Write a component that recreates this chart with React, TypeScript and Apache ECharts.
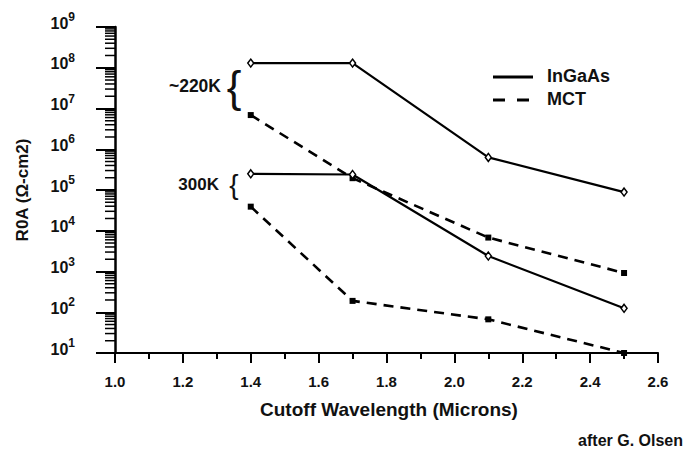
import React, { useEffect, useRef } from "react";
import * as echarts from "echarts";

// Cutoff wavelengths (microns)
const wavelengths = [1.4, 1.7, 2.1, 2.5];
// R0A values (ohm-cm2)
const ingaas220 = [1.3e8, 1.3e8, 6.3e5, 8.9e4];
const ingaas300 = [2.5e5, 2.4e5, 2.4e3, 1.25e2];
const mct220 = [6.9e6, 1.95e5, 6.8e3, 9.2e2];
const mct300 = [3.9e4, 1.9e2, 6.7e1, 1.0e1];

const xTickMin = 1.0;
const xTickMax = 2.6;
const yMin = 1e1;
const yMax = 1e9;

const FONT = "'Liberation Sans', Arial, Helvetica, sans-serif";

function pairs(ys: number[]) {
  return wavelengths.map((x, i) => [x, ys[i]]);
}

// minor tick positions on log axis (2..9 x 10^k)
const minorTicks: number[][] = [];
for (let k = 1; k < 9; k++) {
  for (let m = 2; m <= 9; m++) {
    minorTicks.push([xTickMin, m * Math.pow(10, k)]);
  }
}

export default function App() {
  const ref = useRef<HTMLDivElement>(null);
  useEffect(() => {
    document.body.style.margin = "0";
    if (!ref.current) return;
    const chart = echarts.init(ref.current, null, { renderer: "svg" });
    const solid = { color: "#000", width: 2.2, type: "solid" as const };
    const dashed = { color: "#000", width: 2.6, type: [10, 7] as any };
    const diamond = {
      symbol: "diamond",
      symbolSize: [6, 8],
      itemStyle: { color: "#fff", borderColor: "#000", borderWidth: 1.5 },
    };
    const square = {
      symbol: "rect",
      symbolSize: 6,
      itemStyle: { color: "#000" },
    };
    const option: any = {
      animation: false,
      backgroundColor: "#fff",
      grid: { left: 115, right: 26, top: 27, bottom: 96, containLabel: false },
      xAxis: {
        type: "value",
        min: xTickMin,
        max: xTickMax,
        interval: 0.2,
        axisLine: { show: true, lineStyle: { color: "#000", width: 2.2 } },
        axisTick: { show: true, length: 10, lineStyle: { color: "#000", width: 2 } },
        minorTick: { show: true, splitNumber: 2, length: 6, lineStyle: { color: "#000", width: 2 } },
        splitLine: { show: false },
        minorSplitLine: { show: false },
        axisLabel: {
          margin: 21,
          color: "#111",
          fontFamily: FONT,
          fontWeight: "bold",
          fontSize: 15,
          formatter: (v: number) => v.toFixed(1),
        },
      },
      yAxis: {
        type: "log",
        logBase: 10,
        min: yMin,
        max: yMax,
        splitNumber: 8,
        name: "R0A (Ω-cm2)",
        nameLocation: "middle",
        nameGap: 84,
        nameRotate: 90,
        nameTextStyle: {
          color: "#111",
          fontFamily: FONT,
          fontWeight: "bold",
          fontSize: 17,
        },
        axisLine: { show: true, lineStyle: { color: "#000", width: 2.5 } },
        axisTick: { show: true, length: 19, lineStyle: { color: "#000", width: 2 } },
        minorTick: { show: false },
        splitLine: { show: false },
        axisLabel: {
          margin: 40,
          padding: [0, 0, 12, 0],
          formatter: (v: number) => {
            const e = Math.round(Math.log10(v));
            return `{b|10}{s|${e}}`;
          },
          rich: {
            b: {
              fontFamily: FONT,
              fontWeight: "bold",
              fontSize: 16,
              color: "#111",
              lineHeight: 20,
              verticalAlign: "bottom",
            },
            s: {
              fontFamily: FONT,
              fontWeight: "bold",
              fontSize: 12,
              color: "#111",
              lineHeight: 20,
              verticalAlign: "top",
            },
          },
        },
      },
      series: [
        {
          type: "line",
          name: "InGaAs ~220K",
          data: pairs(ingaas220),
          lineStyle: solid,
          ...diamond,
          z: 3,
        },
        {
          type: "line",
          name: "InGaAs 300K",
          data: pairs(ingaas300),
          lineStyle: solid,
          ...diamond,
          z: 3,
        },
        {
          type: "line",
          name: "MCT ~220K",
          data: pairs(mct220),
          lineStyle: dashed,
          ...square,
          z: 2,
        },
        {
          type: "line",
          name: "MCT 300K",
          data: pairs(mct300),
          lineStyle: dashed,
          ...square,
          z: 2,
        },
        {
          type: "custom",
          name: "minorTicks",
          silent: true,
          clip: false,
          data: minorTicks,
          encode: { x: 0, y: 1 },
          renderItem: (params: any, api: any) => {
            const p = api.coord([api.value(0), api.value(1)]);
            return {
              type: "line",
              shape: { x1: p[0] - 10, y1: p[1], x2: p[0], y2: p[1] },
              style: { stroke: "#000", lineWidth: 1.5 },
            };
          },
        },
      ],
      graphic: [
        // legend
        {
          type: "line",
          shape: { x1: 493, y1: 77, x2: 533, y2: 77 },
          style: { stroke: "#000", lineWidth: 3 },
        },
        {
          type: "line",
          shape: { x1: 493, y1: 100, x2: 533, y2: 100 },
          style: { stroke: "#000", lineWidth: 3, lineDash: [12, 12] },
        },
        {
          type: "text",
          x: 547,
          y: 76,
          style: {
            text: "InGaAs",
            fill: "#111",
            fontFamily: FONT,
            fontWeight: "bold",
            fontSize: 18,
            align: "left",
            verticalAlign: "middle",
            textAlign: "left",
            textVerticalAlign: "middle",
          },
        },
        {
          type: "text",
          x: 547,
          y: 99,
          style: {
            text: "MCT",
            fill: "#111",
            fontFamily: FONT,
            fontWeight: "bold",
            fontSize: 18,
            align: "left",
            verticalAlign: "middle",
            textAlign: "left",
            textVerticalAlign: "middle",
          },
        },
        // temperature annotations
        {
          type: "text",
          x: 221,
          y: 86,
          style: {
            text: "~220K",
            fill: "#111",
            fontFamily: FONT,
            fontWeight: "bold",
            fontSize: 17.5,
            align: "right",
            verticalAlign: "middle",
            textAlign: "right",
            textVerticalAlign: "middle",
          },
        },
        {
          type: "text",
          x: 234,
          y: 86,
          style: {
            text: "{",
            fill: "#111",
            fontFamily: FONT,
            fontSize: 44,
            align: "center",
            verticalAlign: "middle",
            textAlign: "center",
            textVerticalAlign: "middle",
          },
        },
        {
          type: "text",
          x: 219,
          y: 184,
          style: {
            text: "300K",
            fill: "#111",
            fontFamily: FONT,
            fontWeight: "bold",
            fontSize: 17,
            align: "right",
            verticalAlign: "middle",
            textAlign: "right",
            textVerticalAlign: "middle",
          },
        },
        {
          type: "text",
          x: 234,
          y: 184,
          style: {
            text: "{",
            fill: "#111",
            fontFamily: FONT,
            fontSize: 28,
            align: "center",
            verticalAlign: "middle",
            textAlign: "center",
            textVerticalAlign: "middle",
          },
        },
        // x axis title
        {
          type: "text",
          x: 389,
          y: 409,
          style: {
            text: "Cutoff Wavelength (Microns)",
            fill: "#111",
            fontFamily: FONT,
            fontWeight: "bold",
            fontSize: 19,
            align: "center",
            verticalAlign: "middle",
            textAlign: "center",
            textVerticalAlign: "middle",
          },
        },
        // source
        {
          type: "text",
          x: 683,
          y: 440,
          style: {
            text: "after G. Olsen",
            fill: "#111",
            fontFamily: FONT,
            fontWeight: "bold",
            fontSize: 16,
            align: "right",
            verticalAlign: "middle",
            textAlign: "right",
            textVerticalAlign: "middle",
          },
        },
      ],
    };
    chart.setOption(option);
    return () => chart.dispose();
  }, []);
  return <div ref={ref} style={{ width: 684, height: 449 }} />;
}
